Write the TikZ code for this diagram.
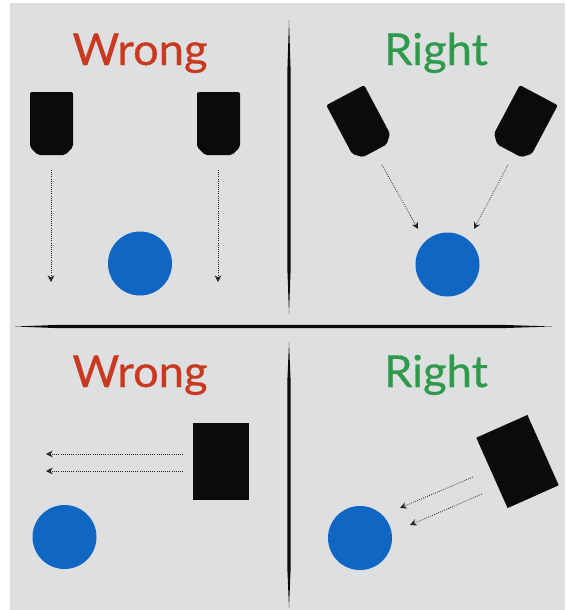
\documentclass[tikz,border=0pt]{standalone}
\usepackage{fontspec}
\newfontfamily\headfont{Lato}[FakeBold=0.6]
\usepackage{tikz}
\usetikzlibrary{arrows.meta}
\definecolor{my_bg}{HTML}{DEDFE1}
\definecolor{my_ink}{HTML}{0B0B0B}
\definecolor{my_red}{HTML}{C9391F}
\definecolor{my_green}{HTML}{2F9A4B}
\definecolor{my_blue}{HTML}{0F66C3}
\newcommand{\sensorbody}{%
    \fill[my_ink, rounded corners=1.5pt] (-21.5, -31.5) -- (21.5, -31.5) -- (21.5, 23.5)
        -- (13.5, 31.5) -- (-13.5, 31.5) -- (-21.5, 23.5) -- cycle;
}

\begin{document}
\begin{tikzpicture}[
    x=0.75pt, y=-0.75pt,
    heading/.style={font=\headfont\fontsize{33}{33}\selectfont, anchor=base,
        inner sep=0pt, xscale=1.03},
    ball/.style={circle, fill=my_blue, minimum size=48pt, inner sep=0pt},
    ray/.style={my_ink!90, semithick, densely dotted, -{Stealth[length=5pt, width=5pt]}},
    divider/.style={fill=my_ink}
]

% ---- Rahmen ----
\useasboundingbox (0, 0) rectangle (565, 610);
\fill[white] (0, 0) rectangle (565, 610);
\fill[my_bg] (10, 3) rectangle (565, 610);

% ---- Trennlinien ----
\fill[divider] (289, 20) -- (290.6, 70) -- (290.6, 270) -- (289, 314)
    -- (287.4, 270) -- (287.4, 70) -- cycle;
\fill[divider] (15, 326.5) -- (60, 324.8) -- (500, 324.8) -- (552, 326.5)
    -- (500, 328.2) -- (60, 328.2) -- cycle;
\fill[divider] (289, 342) -- (290.6, 380) -- (290.6, 570) -- (289, 608)
    -- (287.4, 570) -- (287.4, 380) -- cycle;

% ---- oben links: falsch ----
\node[heading, text=my_red] (wrongTop) at (140, 65) {Wrong};
\begin{scope}[shift={(51.5, 123.5)}]
    \sensorbody
\end{scope}
\begin{scope}[shift={(218.5, 123.5)}]
    \sensorbody
\end{scope}
\draw[ray] (51, 170) -- (51, 282);
\draw[ray] (218, 170) -- (218, 282);
\node[ball] (ballTL) at (140, 263.5) {};

% ---- oben rechts: richtig ----
\node[heading, text=my_green] (rightTop) at (436, 65) {Right};
\begin{scope}[shift={(360, 123)}, rotate=28]
    \sensorbody
\end{scope}
\begin{scope}[shift={(524, 123)}, rotate=-28]
    \sensorbody
\end{scope}
\draw[ray] (382, 165) -- (418, 229);
\draw[ray] (508, 165) -- (474, 229);
\node[ball] (ballTR) at (447.5, 264.5) {};

% ---- unten links: falsch ----
\node[heading, text=my_red] (wrongBottom) at (140, 387) {Wrong};
\fill[my_ink] (193, 423) rectangle (249, 500);
\draw[ray] (183, 454) -- (46, 454);
\draw[ray] (183, 471) -- (46, 471);
\node[ball] (ballBL) at (64.5, 537) {};

% ---- unten rechts: richtig ----
\node[heading, text=my_green] (rightBottom) at (436, 387) {Right};
\begin{scope}[shift={(517.5, 461.5)}, rotate=24]
    \fill[my_ink] (-28, -38.5) rectangle (28, 38.5);
\end{scope}
\draw[ray] (473, 477) -- (400, 508);
\draw[ray] (482, 494) -- (410, 525);
\node[ball] (ballBR) at (360, 538) {};

\end{tikzpicture}
\end{document}
